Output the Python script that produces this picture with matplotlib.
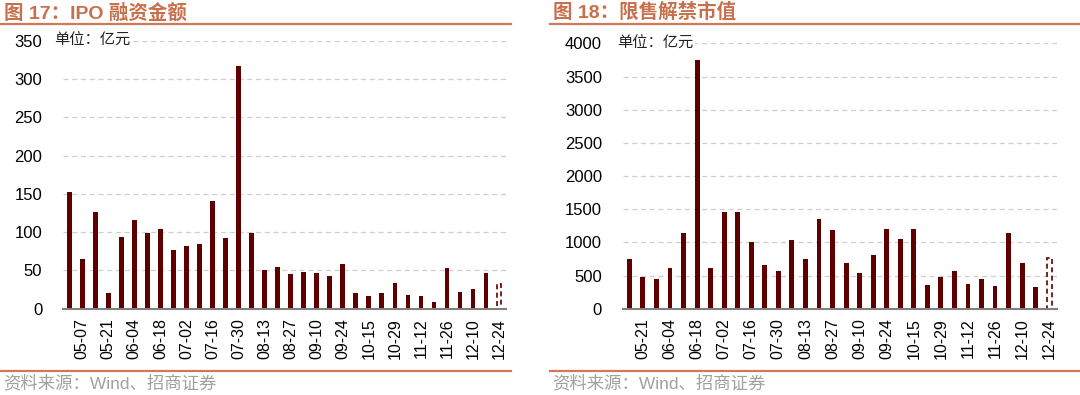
import matplotlib
matplotlib.use("Agg")
import matplotlib.pyplot as plt
from matplotlib.lines import Line2D

plt.rcParams['font.family'] = ['Liberation Sans', 'Noto Sans CJK SC', 'DejaVu Sans']

# 图17 IPO融资金额（亿元），最后一周为虚线
ipo_dates = ['04-30', '05-07', '05-14', '05-21', '05-28', '06-04', '06-11', '06-18',
             '06-25', '07-02', '07-09', '07-16', '07-23', '07-30', '08-06', '08-13',
             '08-20', '08-27', '09-03', '09-10', '09-17', '09-24', '10-08', '10-15',
             '10-22', '10-29', '11-05', '11-12', '11-19', '11-26', '12-03', '12-10',
             '12-17', '12-24']
ipo_vals = [153, 65, 126, 21, 93, 116, 99, 104, 76, 82, 85, 140, 92, 317, 99, 51,
            55, 45, 48, 46, 43, 59, 21, 17, 20, 34, 18, 17, 9, 53, 22, 26, 46, 32]

# 图18 限售解禁市值（亿元）
unlock_dates = ['05-14', '05-21', '05-28', '06-04', '06-11', '06-18', '06-25', '07-02',
                '07-09', '07-16', '07-23', '07-30', '08-06', '08-13', '08-20', '08-27',
                '09-03', '09-10', '09-17', '09-24', '10-08', '10-15', '10-22', '10-29',
                '11-05', '11-12', '11-19', '11-26', '12-03', '12-10', '12-17', '12-24']
unlock_vals = [745, 483, 443, 609, 1142, 3750, 609, 1454, 1454, 1006, 664, 574, 1032,
               745, 1359, 1183, 690, 533, 805, 1208, 1047, 1208, 357, 473, 574, 367,
               443, 337, 1147, 690, 322, 765]

bar_c = '#5e0000'
title_c = '#c8704c'
rule_c = '#d0795a'


def draw(ax, dates, vals, ymax, step, xpad):
    n = len(dates)
    x = list(range(n))
    ax.bar(x[:-1], vals[:-1], width=0.36, color=bar_c, zorder=3)
    ax.bar(x[-1], vals[-1], width=0.36, fill=False, edgecolor=bar_c,
           linestyle=(0, (3, 2)), linewidth=1.2, zorder=3)
    ax.set_xlim(xpad[0], n - 1 + xpad[1])
    ax.set_ylim(0, ymax)
    ax.set_yticks(range(0, ymax + 1, step))
    ax.set_xticks(x[1::2])
    ax.set_xticklabels(dates[1::2], rotation=90)
    ax.tick_params(axis='x', length=0, labelsize=11.5, pad=7)
    ax.tick_params(axis='y', length=0, labelsize=12, pad=15)
    ax.yaxis.grid(True, linestyle=(0, (4, 3)), color='#cfcfcf', linewidth=0.9)
    for s in ['top', 'right', 'left']:
        ax.spines[s].set_visible(False)
    ax.spines['bottom'].set_color('#808080')
    ax.spines['bottom'].set_linewidth(1.5)
    ax.spines['bottom'].set_zorder(4)


fig = plt.figure(figsize=(10.8, 3.95), dpi=100)

ax1 = fig.add_axes([0.0583, 0.2185, 0.4102, 0.6785])
draw(ax1, ipo_dates, ipo_vals, 350, 50, (-0.48, 0.53))
ax1.text(-0.02, 350, '单位：亿元', fontsize=11, va='center', ha='left',
         family=['Noto Sans CJK SC'],
         transform=ax1.get_yaxis_transform(), color='#222222',
         bbox=dict(facecolor='white', edgecolor='none', pad=1))

ax2 = fig.add_axes([0.5766, 0.2185, 0.4018, 0.6718])
draw(ax2, unlock_dates, unlock_vals, 4000, 500, (-0.49, 0.55))
ax2.text(-0.013, 4000, '单位：亿元', fontsize=11, va='center', ha='left',
         family=['Noto Sans CJK SC'],
         transform=ax2.get_yaxis_transform(), color='#222222',
         bbox=dict(facecolor='white', edgecolor='none', pad=1))

# 标题、分隔线与资料来源
fig.text(0.004, 0.968, '图 17：IPO 融资金额', fontsize=14, fontweight='bold',
         color=title_c, va='center', ha='left')
fig.text(0.512, 0.968, '图 18：限售解禁市值', fontsize=14, fontweight='bold',
         color=title_c, va='center', ha='left')
for x0, x1 in [(0.0, 0.473), (0.509, 1.0)]:
    fig.add_artist(Line2D([x0, x1], [0.939, 0.939], color=rule_c, linewidth=1.6))
    fig.add_artist(Line2D([x0, x1], [0.061, 0.061], color=rule_c, linewidth=1.6))
fig.text(0.003, 0.030, '资料来源：Wind、招商证券', fontsize=12.5, color='#a0a0a0',
         va='center', ha='left')
fig.text(0.511, 0.030, '资料来源：Wind、招商证券', fontsize=12.5, color='#a0a0a0',
         va='center', ha='left')

fig.savefig('out.png', dpi=100)
